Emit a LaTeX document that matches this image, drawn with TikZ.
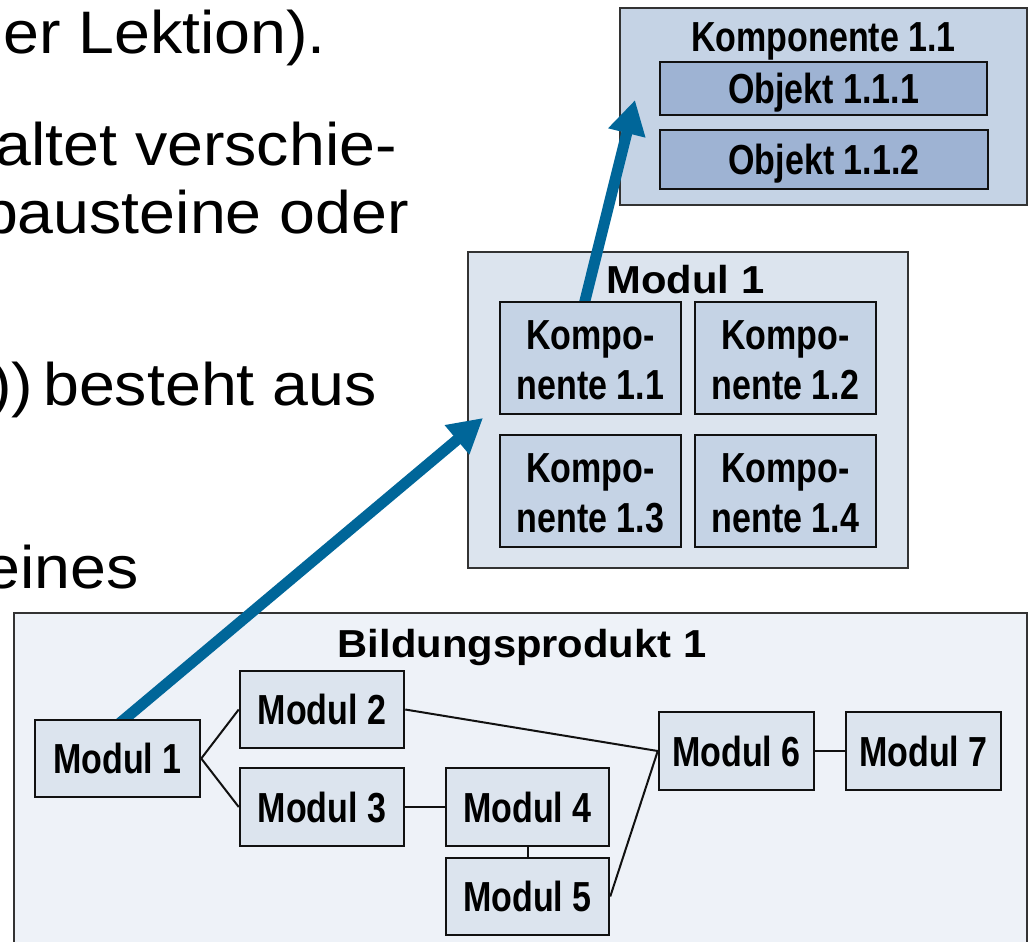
\documentclass[tikz,border=0pt]{standalone}
\usepackage{fontspec}
\setmainfont{Liberation Sans}
\newfontfamily\bodyf[FakeStretch=1.075]{Liberation Sans}
\newfontfamily\condf[FakeStretch=0.81]{Liberation Sans}
\newfontfamily\titlef[FakeStretch=1.07]{Liberation Sans}
\usetikzlibrary{arrows.meta,calc}
\pgfdeclarelayer{bg}
\pgfdeclarelayer{arr}
\pgfsetlayers{bg,arr,main}
\definecolor{arrblue}{HTML}{006699}
\definecolor{bpfill}{HTML}{EEF2F8}
\definecolor{modfill}{HTML}{DCE4EE}
\definecolor{kfill}{HTML}{C5D3E5}
\definecolor{objfill}{HTML}{9EB3D3}
\definecolor{boxline}{HTML}{111111}
\definecolor{contline}{HTML}{333333}
\tikzset{
 cont/.style={draw=contline, line width=2pt, inner sep=0pt},
 box/.style={draw=boxline, line width=2.5pt, inner sep=0pt, font=\condf\bfseries\fontsize{42}{50}\selectfont, text height=30pt, text depth=0pt},
 modbox/.style={box, fill=modfill},
 kbox/.style={box, fill=kfill, align=center, text height=82pt, text depth=-2pt},
 objbox/.style={box, fill=objfill},
 title/.style={inner sep=0pt, anchor=base, font=\titlef\bfseries\fontsize{39}{46}\selectfont},
 ctitle/.style={inner sep=0pt, anchor=base, font=\condf\bfseries\fontsize{42}{50}\selectfont},
 body/.style={inner sep=0pt, anchor=base east, font=\bodyf\fontsize{60}{72}\selectfont},
 link/.style={line width=2pt, draw=boxline},
 bigarrow/.style={draw=arrblue, line width=11pt, -{Triangle[length=34pt,width=36pt]}, shorten <=-12pt},
}
\begin{document}
\begin{tikzpicture}[x=1pt,y=-1pt]
\useasboundingbox (0,0) rectangle (1029,942);

% body text fragments
\node[body] (t1) at (326,54) {er Lektion).};
\node[body] (t2) at (397,165) {altet verschie-};
\node[body] (t3) at (409,233) {bausteine oder};
\node[body] (t4) at (377,405) {))\kern-8pt{} besteht aus};
\node[body] (t5) at (139,588) {eines};

% containers
\begin{pgfonlayer}{bg}
\node[cont, fill=bpfill, minimum width=1013pt, minimum height=337pt] (bp) at (520.5,781.5) {};
\node[cont, fill=modfill, minimum width=440pt, minimum height=316pt] (mb) at (688,410) {};
\node[cont, fill=kfill, minimum width=407pt, minimum height=197pt] (kb) at (823.5,106.5) {};
\end{pgfonlayer}

\node[title] (bpt) at (522,657) {Bildungsprodukt 1};
\node[title] (mbt) at (685.5,293) {Modul 1};
\node[ctitle] (kbt) at (823.5,52) {Komponente 1.1};

% objects
\node[objbox, minimum width=327pt, minimum height=53pt] (o1) at (823.5,88.5) {Objekt 1.1.1};
\node[objbox, minimum width=328pt, minimum height=59pt] (o2) at (824,159.5) {Objekt 1.1.2};

% components
\node[kbox, minimum width=181pt, minimum height=112pt] (k11) at (590.5,358) {Kompo-\\nente 1.1};
\node[kbox, minimum width=181pt, minimum height=112pt] (k12) at (785.5,358) {Kompo-\\nente 1.2};
\node[kbox, minimum width=181pt, minimum height=112pt] (k13) at (590.5,491) {Kompo-\\nente 1.3};
\node[kbox, minimum width=181pt, minimum height=112pt] (k14) at (785.5,491) {Kompo-\\nente 1.4};

% modules
\node[modbox, minimum width=165pt, minimum height=77pt] (m1) at (117.5,758.5) {Modul 1};
\node[modbox, minimum width=164pt, minimum height=77pt] (m2) at (322,709.5) {Modul 2};
\node[modbox, minimum width=164pt, minimum height=78pt] (m3) at (322,807) {Modul 3};
\node[modbox, minimum width=163pt, minimum height=78pt] (m4) at (527.5,807) {Modul 4};
\node[modbox, minimum width=163pt, minimum height=77pt] (m5) at (527.5,896.5) {Modul 5};
\node[modbox, minimum width=155pt, minimum height=78pt] (m6) at (736.5,751) {Modul 6};
\node[modbox, minimum width=155pt, minimum height=78pt] (m7) at (923.5,751) {Modul 7};

% links
\draw[link] (m1.east) -- (m2.west);
\draw[link] (m1.east) -- (m3.west);
\draw[link] (m2.east) -- (m6.west);
\draw[link] (m3.east) -- (m4.west);
\draw[link] (m4.south) -- (m5.north);
\draw[link] (m5.east) -- (m6.west);
\draw[link] (m6.east) -- (m7.west);

% big arrows
\coordinate (tip1) at (483,418);
\coordinate (tip2) at (635,100);
\begin{pgfonlayer}{arr}
\draw[bigarrow] ($(m1.north)+(7.5,0)$) -- (tip1);
\draw[bigarrow] ($(k11.north)+(-5.5,0)$) -- (tip2);
\end{pgfonlayer}
\end{tikzpicture}
\end{document}
